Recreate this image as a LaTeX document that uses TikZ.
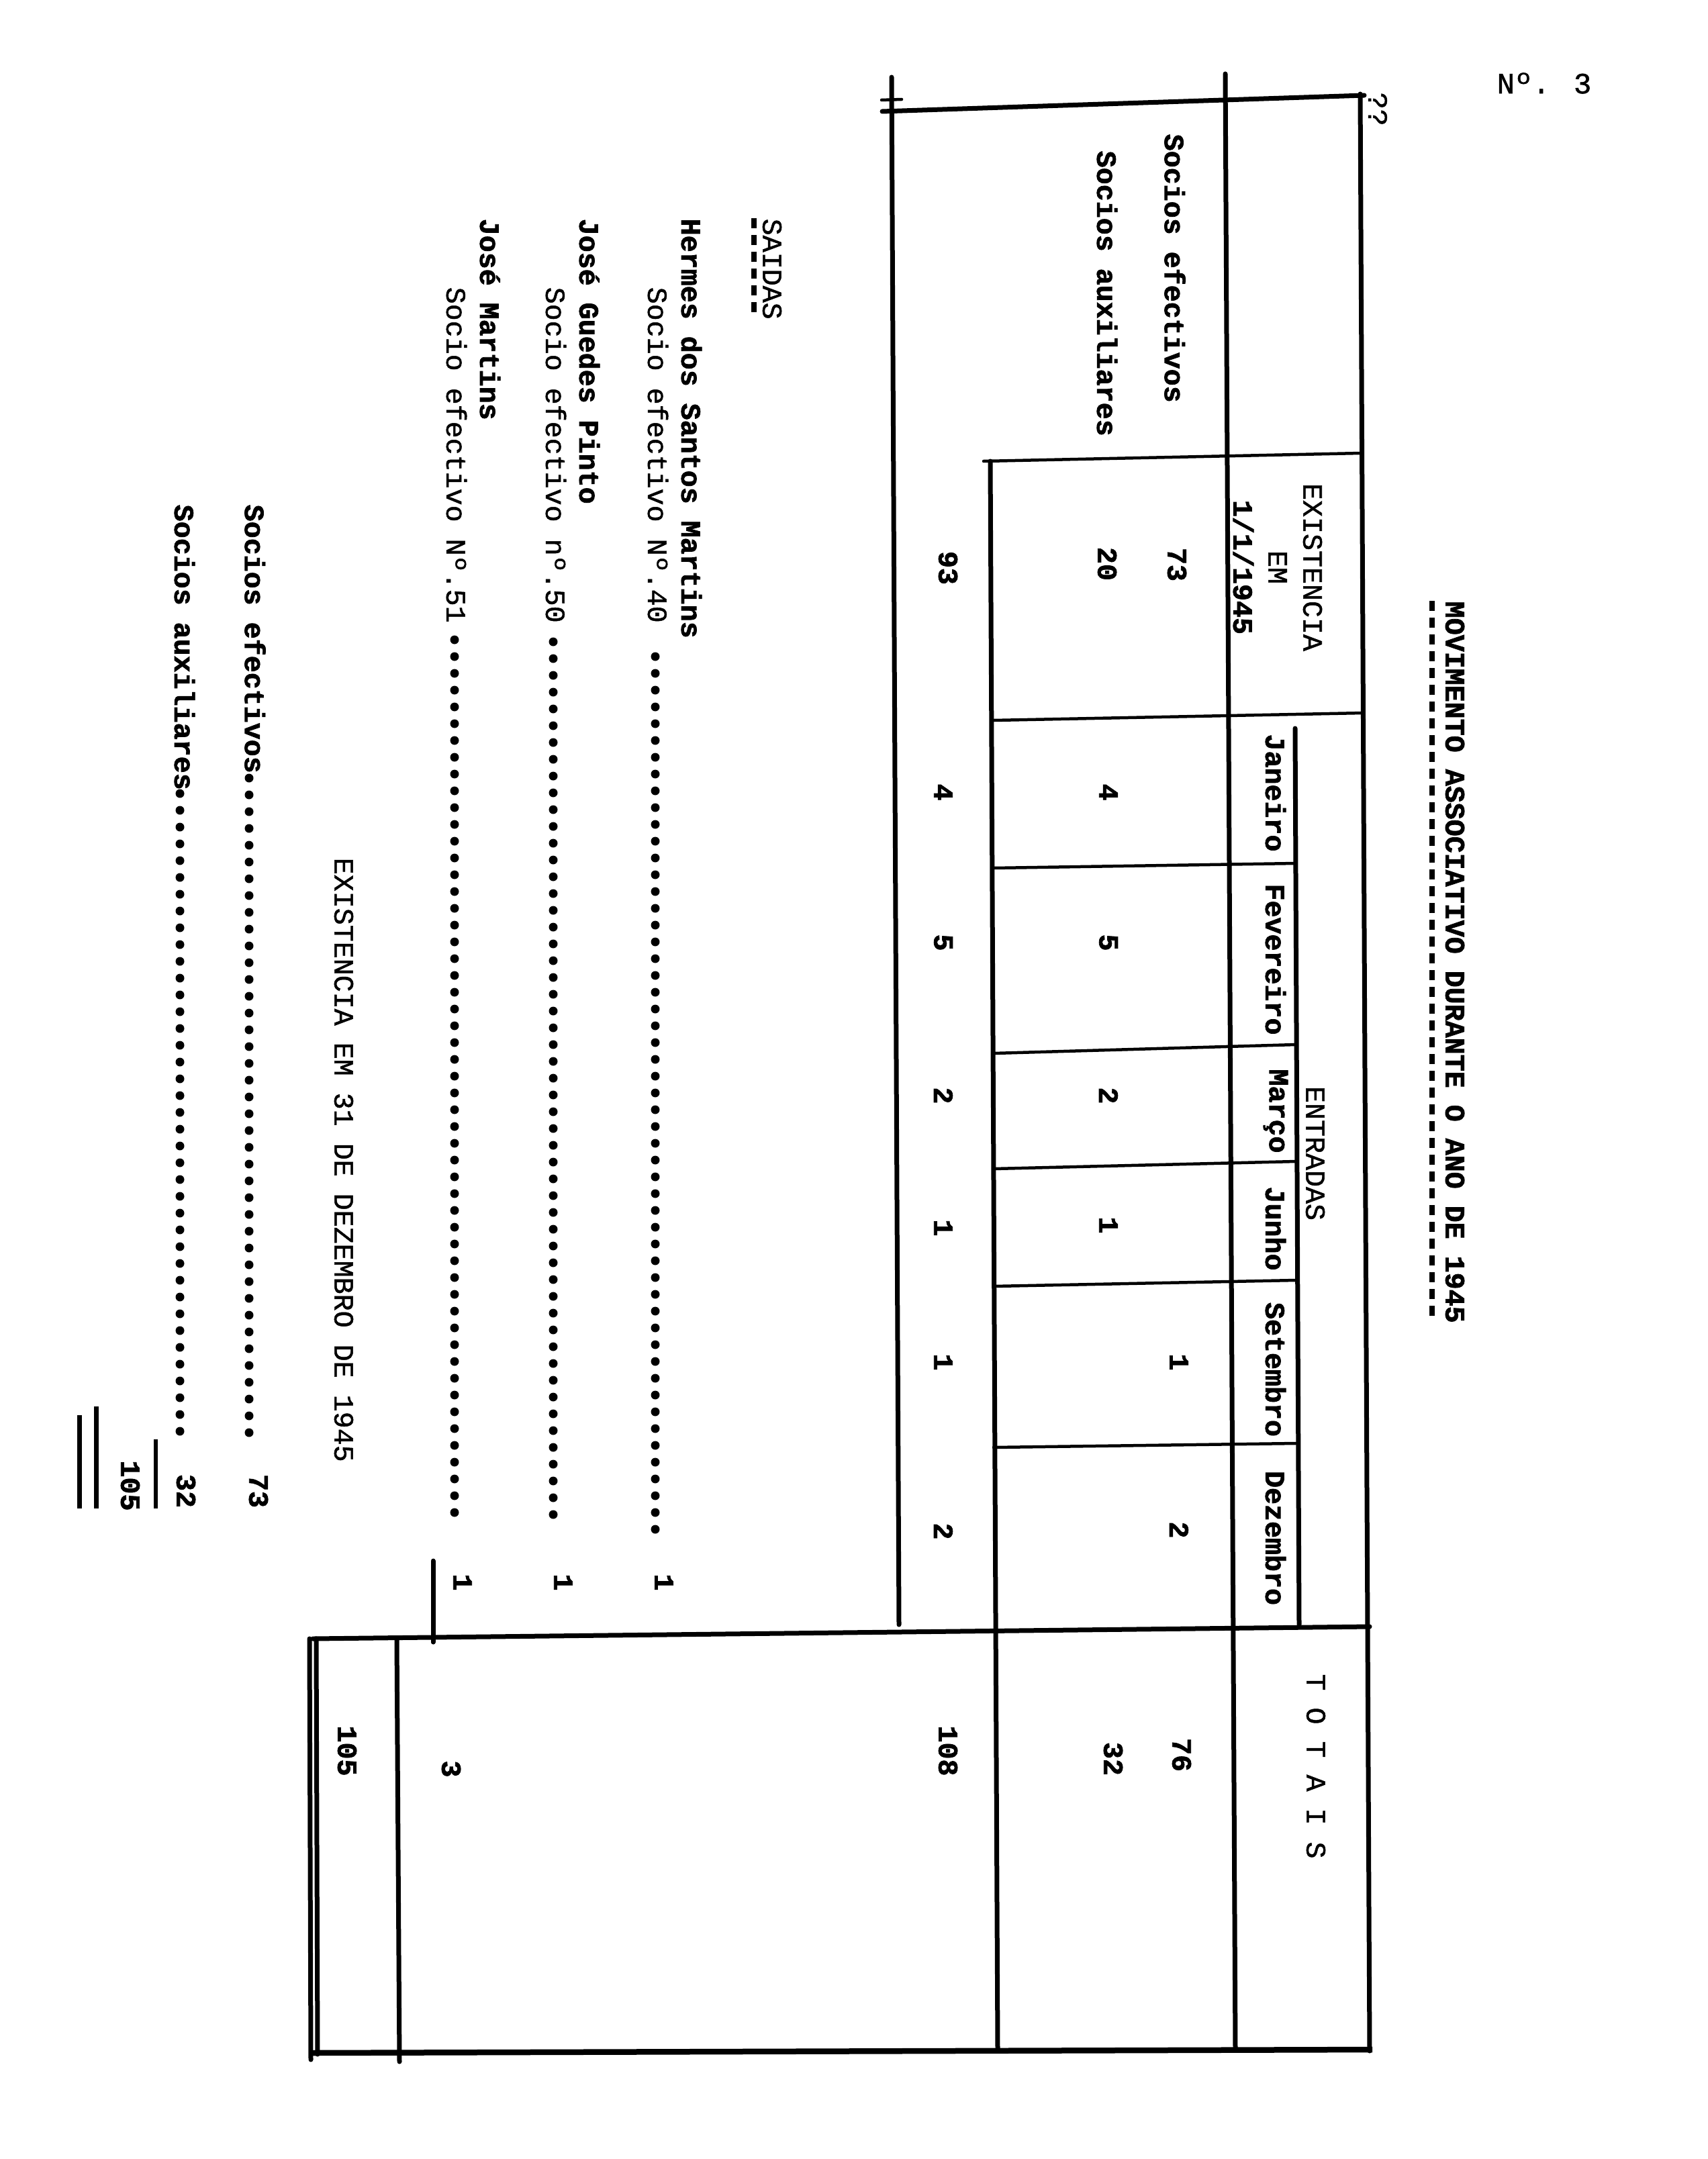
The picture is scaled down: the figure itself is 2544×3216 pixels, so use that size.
\documentclass[tikz,border=0pt]{standalone}
\usepackage{fontspec}
\setmainfont{Liberation Mono}[BoldFeatures={FakeBold=1.8}]
\newfontfamily\medfont{Liberation Mono}[FakeBold=1.2]
\begin{document}
\begin{tikzpicture}[x=0.1mm,y=-0.1mm]
\tikzset{
 ln/.style={line width=0.7mm, line cap=round},
 lnthin/.style={line width=0.45mm, line cap=round},
 tw/.style={rotate=-90, inner sep=0pt, font=\fontsize{11.855}{14}\selectfont\bfseries},
 twl/.style={rotate=-90, inner sep=0pt, font=\fontsize{11.855}{14}\selectfont\medfont},
 lead/.style={line width=1.3mm, line cap=round, dash pattern=on 0pt off 2.5mm},
 ul/.style={line width=0.75mm, dash pattern=on 1.5mm off 1mm},
}
\useasboundingbox (0,0) rectangle (2544,3216);
\fill[white] (0,0) rectangle (2544,3216);

% page number
\node[inner sep=0pt, font=\fontsize{12.5}{14}\selectfont\medfont] (pagenum) at (2300,124) {Nº. 3};

% title
\node[tw, anchor=west] (title) at (2167,895) {MOVIMENTO ASSOCIATIVO DURANTE O ANO DE 1945};
\draw[ul] (2133,895) -- (2133,1968);
\node[twl, anchor=west] (mark) at (2052,137) {??};

% ---- vertical rules
\draw[ln] (1328,115) -- (1339,2420);
\draw[ln] (1475,687) -- (1486,3053);
\draw[ln] (1825,110) -- (1840,3053);
\draw[ln] (1929,1085) -- (1935,2420);
\draw[ln] (2026,140) -- (2040,3055);
\draw[ln] (645,2325) -- (645,2446);
\draw[ln] (591,2443) -- (595,3071);
\draw[ln] (461,2441) -- (463,3068);
\draw[ln] (471,2441) -- (473,3060);

% ---- horizontal rules
\draw[ln] (1314,166) -- (2032,142);
\draw[lnthin] (1313,149) -- (1343,148);
\draw[lnthin] (1465,687) -- (2027,675);
\draw[lnthin] (1480,1073) -- (2030,1062);
\draw[lnthin] (1480,1293) -- (1930,1286);
\draw[lnthin] (1480,1569) -- (1930,1556);
\draw[lnthin] (1480,1741) -- (1930,1730);
\draw[lnthin] (1480,1916) -- (1930,1907);
\draw[lnthin] (1480,2156) -- (1930,2150);
\draw[ln] (466,2441) -- (2040,2423);
\draw[line width=0.85mm] (461,3058) -- (2044,3053);

% ---- header texts
\node[tw, anchor=west] (sefect) at (1750,199) {Socios efectivos};
\node[tw, anchor=west] (saux) at (1649,224) {Socios auxiliares};
\node[twl] (exist) at (1955,845) {EXISTENCIA};
\node[twl] (em) at (1903,845) {EM};
\node[tw] (data) at (1852,845) {1/1/1945};
\node[twl] (entradas) at (1959,1718) {ENTRADAS};
\node[tw] (jan) at (1900,1181) {Janeiro};
\node[tw] (fev) at (1900,1429) {Fevereiro};
\node[tw] (mar) at (1900,1655) {Março};
\node[tw] (jun) at (1900,1830) {Junho};
\node[tw] (set) at (1900,2040) {Setembro};
\node[tw] (dez) at (1900,2291) {Dezembro};
\node[twl] (totais) at (1960,2631) {T O T A I S};

% ---- values
\node[tw] (e0) at (1753,841) {73};
\node[tw] (a0) at (1649,840) {20};
\node[tw] (t0) at (1412,846) {93};
\node[tw] (a1) at (1651,1180) {4};
\node[tw] (a2) at (1651,1404) {5};
\node[tw] (a3) at (1651,1632) {2};
\node[tw] (a4) at (1651,1825) {1};
\node[tw] (e5) at (1756,2029) {1};
\node[tw] (e6) at (1756,2279) {2};
\node[tw] (t1) at (1405,1180) {4};
\node[tw] (t2) at (1405,1404) {5};
\node[tw] (t3) at (1405,1632) {2};
\node[tw] (t4) at (1405,1829) {1};
\node[tw] (t5) at (1405,2029) {1};
\node[tw] (t6) at (1405,2281) {2};
\node[tw] (et) at (1760,2614) {76};
\node[tw] (at) at (1658,2620) {32};
\node[tw] (tt) at (1412,2608) {108};

% ---- saidas
\node[twl, anchor=west] (saidas) at (1150,325) {SAIDAS};
\draw[ul] (1123,325) -- (1123,470);
\node[tw, anchor=west] (n1) at (1030,325) {Hermes dos Santos Martins};
\node[twl, anchor=west] (s1) at (980,427) {Socio efectivo Nº.40};
\node[tw, anchor=west] (n2) at (878,325) {José Guedes Pinto};
\node[twl, anchor=west] (s2) at (828,427) {Socio efectivo nº.50};
\node[tw, anchor=west] (n3) at (730,325) {José Martins};
\node[twl, anchor=west] (s3) at (680,427) {Socio efectivo Nº.51};
\draw[lead] (976,978) -- (976,2283);
\draw[lead] (824,956) -- (824,2257);
\draw[lead] (677,953) -- (677,2260);
\node[tw] (v1) at (989,2357) {1};
\node[tw] (v2) at (839,2357) {1};
\node[tw] (v3) at (689,2357) {1};
\node[tw] (vs) at (672,2635) {3};
\node[tw] (vf) at (517,2608) {105};

% ---- existencia final
\node[twl, anchor=west] (final) at (512,1277) {EXISTENCIA EM 31 DE DEZEMBRO DE 1945};
\node[tw, anchor=west] (fe) at (380,751) {Socios efectivos};
\node[tw, anchor=west] (fa) at (275,751) {Socios auxiliares};
\draw[lead] (371,1159) -- (371,2157);
\draw[lead] (268,1182) -- (268,2155);
\node[tw] (fev73) at (385,2221) {73};
\node[tw] (fav32) at (277,2221) {32};
\draw[line width=0.55mm] (232,2144) -- (232,2247);
\node[tw] (fsum) at (194,2213) {105};
\draw[line width=0.7mm] (118,2108) -- (118,2247);
\draw[line width=0.7mm] (143,2095) -- (143,2247);
\end{tikzpicture}
\end{document}
